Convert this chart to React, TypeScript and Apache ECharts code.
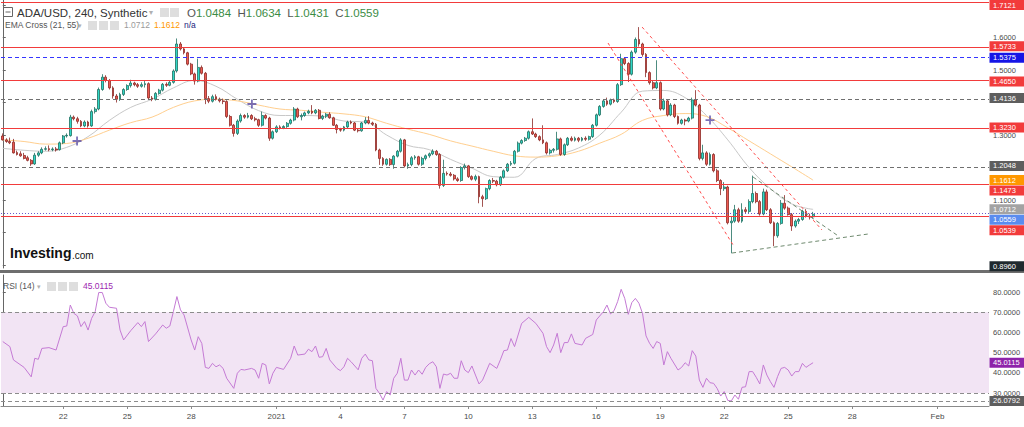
import { useEffect, useRef } from "react";
import * as echarts from "echarts";

const FONT = "'Liberation Sans', Arial, Helvetica, sans-serif";

// 4-hour bars
const FIRST_BAR_UTC = Date.UTC(2020, 11, 19, 4);
const BAR_MS = 4 * 3600 * 1000;
const SLOT_COUNT = 278;

const tickDates = [
  "2020-12-22", "2020-12-25", "2020-12-28", "2021-01-01", "2021-01-04", "2021-01-07", "2021-01-10",
  "2021-01-13", "2021-01-16", "2021-01-19", "2021-01-22", "2021-01-25", "2021-01-28", "2021-02-01",
];
const tickLabels = ["22", "25", "28", "2021", "4", "7", "10", "13", "16", "19", "22", "25", "28", "Feb"];

// [open, high, low, close]
const ohlc: number[][] = [
  [1.297, 1.305, 1.283, 1.285], [1.285, 1.29, 1.276, 1.28], [1.28, 1.292, 1.272, 1.276], [1.278, 1.288, 1.243, 1.245],
  [1.246, 1.252, 1.237, 1.24], [1.242, 1.25, 1.233, 1.236], [1.237, 1.245, 1.225, 1.228], [1.23, 1.236, 1.219, 1.222],
  [1.222, 1.226, 1.205, 1.211], [1.211, 1.245, 1.208, 1.238], [1.238, 1.25, 1.233, 1.245], [1.245, 1.262, 1.241, 1.256],
  [1.256, 1.265, 1.252, 1.258], [1.258, 1.268, 1.25, 1.255], [1.255, 1.262, 1.25, 1.257], [1.257, 1.263, 1.249, 1.254],
  [1.255, 1.28, 1.252, 1.276], [1.276, 1.3, 1.272, 1.297], [1.297, 1.305, 1.292, 1.299], [1.298, 1.362, 1.295, 1.355],
  [1.355, 1.36, 1.345, 1.35], [1.35, 1.356, 1.335, 1.342], [1.342, 1.346, 1.324, 1.328], [1.328, 1.345, 1.324, 1.34],
  [1.34, 1.344, 1.323, 1.328], [1.328, 1.378, 1.325, 1.372], [1.372, 1.386, 1.366, 1.38], [1.38, 1.446, 1.376, 1.44],
  [1.44, 1.487, 1.436, 1.478], [1.478, 1.484, 1.462, 1.468], [1.468, 1.472, 1.44, 1.445], [1.445, 1.45, 1.412, 1.42],
  [1.42, 1.426, 1.4, 1.41], [1.41, 1.43, 1.405, 1.425], [1.425, 1.444, 1.42, 1.44], [1.44, 1.456, 1.436, 1.452],
  [1.452, 1.47, 1.446, 1.46], [1.46, 1.464, 1.45, 1.455], [1.455, 1.46, 1.445, 1.45], [1.45, 1.462, 1.446, 1.455],
  [1.455, 1.466, 1.446, 1.458], [1.458, 1.462, 1.41, 1.414], [1.414, 1.42, 1.404, 1.41], [1.41, 1.432, 1.406, 1.428],
  [1.428, 1.442, 1.424, 1.438], [1.438, 1.46, 1.434, 1.456], [1.456, 1.462, 1.448, 1.453], [1.453, 1.466, 1.45, 1.462],
  [1.462, 1.502, 1.458, 1.497], [1.497, 1.597, 1.492, 1.58], [1.58, 1.586, 1.56, 1.565], [1.565, 1.57, 1.548, 1.553],
  [1.553, 1.556, 1.514, 1.518], [1.518, 1.522, 1.484, 1.488], [1.488, 1.492, 1.455, 1.466], [1.466, 1.535, 1.462, 1.508],
  [1.508, 1.514, 1.486, 1.49], [1.49, 1.494, 1.395, 1.412], [1.412, 1.42, 1.398, 1.404], [1.404, 1.424, 1.4, 1.418],
  [1.418, 1.425, 1.406, 1.41], [1.41, 1.415, 1.4, 1.405], [1.405, 1.412, 1.395, 1.403], [1.403, 1.407, 1.352, 1.357],
  [1.357, 1.362, 1.326, 1.33], [1.33, 1.334, 1.295, 1.305], [1.305, 1.348, 1.3, 1.343], [1.343, 1.366, 1.338, 1.36],
  [1.36, 1.364, 1.35, 1.355], [1.355, 1.368, 1.351, 1.36], [1.36, 1.364, 1.346, 1.35], [1.35, 1.356, 1.342, 1.347],
  [1.347, 1.35, 1.325, 1.33], [1.33, 1.372, 1.326, 1.36], [1.36, 1.364, 1.348, 1.352], [1.352, 1.356, 1.282, 1.29],
  [1.29, 1.314, 1.286, 1.31], [1.31, 1.33, 1.306, 1.325], [1.325, 1.33, 1.317, 1.322], [1.322, 1.33, 1.318, 1.326],
  [1.326, 1.34, 1.322, 1.336], [1.336, 1.35, 1.332, 1.346], [1.346, 1.386, 1.342, 1.38], [1.38, 1.384, 1.352, 1.356],
  [1.356, 1.366, 1.345, 1.36], [1.36, 1.372, 1.356, 1.368], [1.368, 1.378, 1.364, 1.373], [1.373, 1.392, 1.364, 1.368],
  [1.368, 1.38, 1.364, 1.376], [1.376, 1.38, 1.348, 1.351], [1.351, 1.362, 1.346, 1.358], [1.358, 1.368, 1.352, 1.364],
  [1.364, 1.37, 1.35, 1.353], [1.353, 1.356, 1.328, 1.33], [1.33, 1.334, 1.305, 1.317], [1.317, 1.322, 1.31, 1.315],
  [1.315, 1.328, 1.311, 1.325], [1.325, 1.344, 1.321, 1.34], [1.34, 1.345, 1.333, 1.337], [1.337, 1.34, 1.312, 1.315],
  [1.315, 1.32, 1.308, 1.313], [1.313, 1.34, 1.31, 1.337], [1.337, 1.355, 1.333, 1.345], [1.345, 1.358, 1.333, 1.337],
  [1.337, 1.341, 1.328, 1.333], [1.333, 1.337, 1.25, 1.254], [1.254, 1.258, 1.208, 1.228], [1.228, 1.232, 1.205, 1.21],
  [1.21, 1.228, 1.206, 1.225], [1.225, 1.229, 1.205, 1.209], [1.209, 1.238, 1.196, 1.235], [1.235, 1.254, 1.231, 1.25],
  [1.25, 1.29, 1.246, 1.285], [1.285, 1.288, 1.2, 1.205], [1.205, 1.215, 1.196, 1.209], [1.209, 1.235, 1.204, 1.23],
  [1.23, 1.238, 1.224, 1.233], [1.233, 1.236, 1.206, 1.21], [1.21, 1.233, 1.205, 1.228], [1.228, 1.24, 1.222, 1.236],
  [1.236, 1.246, 1.23, 1.242], [1.242, 1.256, 1.238, 1.25], [1.25, 1.254, 1.236, 1.24], [1.24, 1.244, 1.135, 1.145],
  [1.145, 1.224, 1.14, 1.182], [1.182, 1.188, 1.175, 1.18], [1.18, 1.186, 1.172, 1.176], [1.176, 1.18, 1.16, 1.165],
  [1.165, 1.17, 1.156, 1.16], [1.16, 1.204, 1.156, 1.2], [1.2, 1.212, 1.194, 1.205], [1.205, 1.208, 1.168, 1.172],
  [1.172, 1.176, 1.16, 1.164], [1.164, 1.178, 1.158, 1.172], [1.172, 1.175, 1.09, 1.11], [1.11, 1.116, 1.079, 1.104],
  [1.104, 1.138, 1.1, 1.135], [1.135, 1.164, 1.13, 1.16], [1.16, 1.168, 1.152, 1.158], [1.158, 1.162, 1.142, 1.147],
  [1.147, 1.174, 1.143, 1.17], [1.17, 1.194, 1.166, 1.19], [1.19, 1.214, 1.186, 1.21], [1.21, 1.22, 1.205, 1.213],
  [1.213, 1.254, 1.209, 1.25], [1.25, 1.28, 1.246, 1.275], [1.275, 1.287, 1.271, 1.283], [1.283, 1.294, 1.279, 1.29],
  [1.29, 1.314, 1.286, 1.31], [1.31, 1.351, 1.3, 1.303], [1.303, 1.307, 1.291, 1.295], [1.295, 1.299, 1.281, 1.285],
  [1.285, 1.33, 1.272, 1.276], [1.276, 1.28, 1.24, 1.245], [1.245, 1.258, 1.24, 1.253], [1.253, 1.26, 1.246, 1.256],
  [1.256, 1.31, 1.252, 1.288], [1.288, 1.292, 1.236, 1.24], [1.24, 1.274, 1.236, 1.27], [1.27, 1.294, 1.266, 1.29],
  [1.29, 1.296, 1.28, 1.284], [1.284, 1.295, 1.28, 1.29], [1.29, 1.294, 1.278, 1.284], [1.284, 1.294, 1.28, 1.29],
  [1.29, 1.296, 1.282, 1.287], [1.287, 1.298, 1.283, 1.295], [1.295, 1.334, 1.291, 1.33], [1.33, 1.366, 1.326, 1.362],
  [1.362, 1.392, 1.358, 1.388], [1.388, 1.409, 1.384, 1.405], [1.405, 1.415, 1.39, 1.395], [1.395, 1.412, 1.391, 1.408],
  [1.408, 1.412, 1.398, 1.403], [1.403, 1.46, 1.399, 1.455], [1.455, 1.55, 1.451, 1.535], [1.535, 1.54, 1.515, 1.52],
  [1.52, 1.524, 1.463, 1.487], [1.487, 1.56, 1.483, 1.555], [1.555, 1.6, 1.55, 1.594], [1.594, 1.632, 1.572, 1.58],
  [1.58, 1.584, 1.541, 1.548], [1.548, 1.552, 1.478, 1.492], [1.492, 1.496, 1.455, 1.461], [1.461, 1.466, 1.44, 1.445],
  [1.445, 1.53, 1.441, 1.461], [1.461, 1.465, 1.375, 1.38], [1.38, 1.412, 1.376, 1.405], [1.405, 1.41, 1.357, 1.362],
  [1.362, 1.398, 1.358, 1.392], [1.392, 1.396, 1.352, 1.357], [1.357, 1.36, 1.332, 1.336], [1.336, 1.35, 1.332, 1.346],
  [1.346, 1.35, 1.33, 1.343], [1.343, 1.356, 1.339, 1.352], [1.352, 1.415, 1.348, 1.408], [1.408, 1.438, 1.388, 1.392],
  [1.392, 1.396, 1.222, 1.228], [1.228, 1.27, 1.222, 1.245], [1.245, 1.25, 1.205, 1.21], [1.21, 1.246, 1.206, 1.24],
  [1.24, 1.244, 1.185, 1.19], [1.19, 1.196, 1.155, 1.16], [1.16, 1.164, 1.115, 1.135], [1.135, 1.155, 1.128, 1.14],
  [1.14, 1.144, 1.025, 1.03], [1.03, 1.05, 0.936, 1.035], [1.035, 1.085, 1.03, 1.07], [1.07, 1.076, 1.03, 1.035],
  [1.035, 1.09, 1.03, 1.07], [1.07, 1.078, 1.06, 1.065], [1.065, 1.102, 1.06, 1.095], [1.095, 1.175, 1.09, 1.12],
  [1.12, 1.126, 1.09, 1.095], [1.095, 1.1, 1.052, 1.057], [1.057, 1.135, 1.053, 1.125], [1.125, 1.132, 1.066, 1.07],
  [1.07, 1.075, 1.026, 1.03], [1.03, 1.034, 0.958, 0.99], [0.99, 1.032, 0.984, 1.028], [1.028, 1.1, 1.024, 1.09],
  [1.09, 1.115, 1.07, 1.075], [1.075, 1.08, 1.052, 1.055], [1.055, 1.06, 1.005, 1.02], [1.02, 1.04, 1.015, 1.035],
  [1.035, 1.045, 1.026, 1.04], [1.04, 1.07, 1.036, 1.065], [1.065, 1.072, 1.046, 1.05], [1.05, 1.058, 1.04, 1.0484],
  [1.0484, 1.0634, 1.0431, 1.0559],
];

// EMA readings [bar index, value]
const ema21Points: number[][] = [
  [0, 1.259], [6, 1.253], [12, 1.25], [18, 1.262], [24, 1.295], [30, 1.345], [36, 1.385], [42, 1.41], [48, 1.445],
  [54, 1.468], [60, 1.45], [66, 1.41], [72, 1.375], [78, 1.36], [84, 1.36], [90, 1.358], [96, 1.343], [102, 1.34],
  [108, 1.3], [114, 1.268], [120, 1.255], [126, 1.225], [132, 1.198], [138, 1.172], [144, 1.17], [150, 1.228],
  [156, 1.24], [162, 1.26], [168, 1.3], [174, 1.37], [180, 1.435], [186, 1.437], [192, 1.415], [198, 1.36],
  [204, 1.285], [210, 1.2], [216, 1.135], [222, 1.088], [228, 1.0712],
];
const ema55Points: number[][] = [
  [0, 1.285], [6, 1.28], [12, 1.272], [18, 1.274], [24, 1.29], [30, 1.315], [36, 1.338], [42, 1.355], [48, 1.385],
  [54, 1.405], [60, 1.41], [66, 1.405], [72, 1.392], [78, 1.38], [84, 1.376], [90, 1.37], [96, 1.365], [102, 1.356],
  [108, 1.336], [114, 1.318], [120, 1.302], [126, 1.282], [132, 1.266], [138, 1.25], [144, 1.236], [150, 1.232],
  [156, 1.236], [162, 1.25], [168, 1.275], [174, 1.302], [180, 1.345], [186, 1.36], [192, 1.366], [198, 1.357],
  [204, 1.322], [210, 1.282], [216, 1.242], [222, 1.202], [228, 1.1612],
];

// RSI(14) readings [bar index, value]
const rsiPoints: number[][] = [
  [0, 55.5], [2, 53], [3, 46.4], [6, 42.7], [8, 38], [9, 47.2], [10, 46.7], [11, 52.1], [13, 52.5], [15, 51.3],
  [17, 62.9], [18, 63.2], [19, 73.6], [20, 69.5], [21, 68.2], [22, 62.9], [23, 65.4], [24, 61.2], [25, 67], [26, 70.3],
  [27, 79.8], [28, 79.8], [29, 74.5], [30, 72.5], [32, 72], [33, 61.2], [34, 56.3], [36, 60.9], [38, 64.9], [39, 62.9],
  [40, 65.4], [41, 55.5], [43, 59.3], [45, 63.7], [46, 62.1], [47, 63.2], [48, 70.3], [49, 77.8], [50, 71.2], [51, 68.7],
  [53, 56.3], [54, 51.3], [55, 57.9], [56, 54.6], [57, 42.7], [58, 42.2], [59, 44.7], [60, 43], [61, 43.9], [62, 42.2],
  [63, 37.3], [65, 32.3], [66, 39.8], [67, 41.7], [68, 41.4], [70, 42.2], [71, 41.4], [72, 37.3], [73, 44.7], [74, 43.9],
  [75, 34.5], [76, 39.8], [77, 42.7], [79, 41.7], [81, 47.2], [82, 53.3], [83, 48.8], [85, 49.3], [86, 51.7], [87, 50.5],
  [88, 53.3], [89, 47.7], [90, 48], [91, 52.1], [92, 46.4], [94, 42.2], [95, 41.1], [96, 43], [97, 47.2], [98, 45.5],
  [100, 41.5], [101, 47.2], [102, 49.3], [103, 46.4], [104, 46], [105, 32.3], [106, 29.8], [107, 26.5], [108, 30.7],
  [109, 29], [110, 37.3], [111, 39.8], [112, 47.2], [113, 36.4], [114, 36.4], [115, 41.4], [116, 38.9], [117, 41.4],
  [118, 39.3], [119, 42.7], [120, 44.5], [121, 45.5], [122, 43], [123, 32.3], [124, 39.4], [125, 38.9], [126, 39.8],
  [127, 37.3], [128, 37.3], [129, 46], [130, 41.4], [131, 40.1], [132, 43.4], [133, 38.9], [134, 34.5], [135, 36.4],
  [137, 44.7], [139, 42.2], [140, 46.4], [141, 51], [142, 51.3], [143, 57], [144, 53], [146, 64.5], [148, 67.5],
  [150, 64.5], [152, 59.6], [153, 53], [154, 50], [155, 53.8], [156, 59.6], [157, 50], [158, 55], [159, 55], [160, 59.3],
  [161, 54.6], [163, 53.8], [164, 57.1], [166, 59], [167, 66.2], [169, 70.3], [170, 73.6], [171, 69.2], [172, 70.8],
  [173, 75.3], [174, 81.4], [175, 76.9], [176, 69], [177, 74.8], [178, 76.9], [179, 74.5], [180, 69.5], [181, 58.3],
  [182, 54.6], [183, 52.1], [184, 55.5], [185, 54.6], [186, 43.9], [187, 50.5], [188, 47.2], [190, 41.4], [191, 42.7],
  [192, 45], [193, 43.4], [194, 51], [195, 48.3], [196, 36.4], [197, 32.8], [198, 37.3], [199, 35.1], [200, 34.8],
  [201, 32.3], [202, 28.5], [203, 30.7], [204, 26.3], [205, 26.0792], [206, 29], [207, 26.9], [208, 32.8], [209, 33.1],
  [210, 40.6], [211, 40.6], [212, 37.8], [213, 34.5], [214, 43.9], [215, 38.9], [216, 35.6], [217, 32.8], [218, 38.1],
  [219, 42.2], [220, 42.7], [221, 41.4], [222, 38.4], [223, 40.6], [224, 40.6], [225, 44.7], [226, 42.7], [227, 43.9],
  [228, 45.0115],
];

// horizontal levels
const redLevels = [1.7121, 1.5733, 1.465, 1.323, 1.1473, 1.0539];
const blueLevels = [1.5375];
const grayLevels = [1.4136, 1.2048];
const bottomLevel = 0.896;
const rsiBand = [30, 70];
const rsiLowLevel = 26.0792;

// trend drawings [bar index, price]
const channelLines: number[][][] = [
  [[170.3, 1.583], [205.5, 0.9615]],
  [[179.9, 1.632], [230.5, 1.0077]],
];
const triangleLines: number[][][] = [
  [[211.1, 1.1708], [234.7, 0.9923]],
  [[205.2, 0.9369], [243.5, 0.9954]],
];
const crossMarks: number[][] = [[20.9, 1.2815], [70.1, 1.3954], [199, 1.346]];

const RED = "#f23b3b";
const UP = "#2fd8c8";
const DOWN = "#ee5a50";

export default function App() {
  const ref = useRef<HTMLDivElement>(null);

  useEffect(() => {
    if (!ref.current) return;
    const chart = echarts.init(ref.current, undefined, { renderer: "svg" });

    const cats: string[] = [];
    for (let i = 0; i < SLOT_COUNT; i++) cats.push(String(FIRST_BAR_UTC + i * BAR_MS));
    const labelAt: Record<number, string> = {};
    tickDates.forEach((d, k) => {
      const [y, m, dd] = d.split("-").map(Number);
      const idx = Math.round((Date.UTC(y, m - 1, dd) - FIRST_BAR_UTC) / BAR_MS);
      labelAt[idx] = tickLabels[k];
    });
    const showTick = (idx: number) => labelAt[idx] !== undefined;

    const last = ohlc[ohlc.length - 1];
    const ema21Last = ema21Points[ema21Points.length - 1][1];
    const ema55Last = ema55Points[ema55Points.length - 1][1];
    const rsiLast = rsiPoints[rsiPoints.length - 1][1];

    const P_MIN = 0.8908, P_MAX = 1.7154;
    const R_MIN = 23.56, R_MAX = 88.49;

    const axisLabelCommon = {
      fontSize: 7.5,
      color: "#4a4a4a",
      margin: 4,
      showMinLabel: false,
      showMaxLabel: false,
      fontFamily: FONT,
    };

    const drawLine = (pts: number[][], color: string, dash: number[]) => ({
      type: "line",
      xAxisIndex: 2,
      yAxisIndex: 0,
      data: pts,
      symbol: "none",
      silent: true,
      lineStyle: { color, width: 1, type: dash },
      z: 4,
    });

    const option: any = {
      animation: false,
      backgroundColor: "#ffffff",
      textStyle: { fontFamily: FONT },
      grid: [
        { left: 1, right: 35, top: 0, height: 268 },
        { left: 1, right: 35, top: 275, height: 131 },
      ],
      xAxis: [
        { type: "category", gridIndex: 0, data: cats, boundaryGap: true, show: false },
        {
          type: "category",
          gridIndex: 1,
          data: cats,
          boundaryGap: true,
          axisLine: { lineStyle: { color: "#8a8a8a" } },
          axisTick: { show: true, interval: showTick, alignWithLabel: true, length: 3, lineStyle: { color: "#8a8a8a" } },
          axisLabel: {
            interval: showTick,
            formatter: (_v: string, idx: number) => labelAt[idx] ?? "",
            fontSize: 8,
            color: "#4a4a4a",
            margin: 6,
            fontFamily: FONT,
          },
          splitLine: { show: false },
        },
        { type: "value", gridIndex: 0, min: -0.5, max: SLOT_COUNT - 0.5, show: false },
        { type: "value", gridIndex: 1, min: -0.5, max: SLOT_COUNT - 0.5, show: false },
      ],
      yAxis: [
        {
          type: "value",
          gridIndex: 0,
          position: "right",
          min: P_MIN,
          max: P_MAX,
          splitNumber: 8,
          splitLine: { show: false },
          axisLine: { show: true, lineStyle: { color: "#666" } },
          axisTick: { show: true, length: 3, lineStyle: { color: "#666" } },
          axisLabel: { ...axisLabelCommon, formatter: (v: number) => v.toFixed(4) },
        },
        {
          type: "value",
          gridIndex: 1,
          position: "right",
          min: R_MIN,
          max: R_MAX,
          splitNumber: 6,
          splitLine: { show: false },
          axisLine: { show: true, lineStyle: { color: "#666" } },
          axisTick: { show: true, length: 3, lineStyle: { color: "#666" } },
          axisLabel: { ...axisLabelCommon, formatter: (v: number) => v.toFixed(4) },
        },
      ],
      series: [
        {
          type: "candlestick",
          xAxisIndex: 0,
          yAxisIndex: 0,
          barWidth: "66%",
          data: ohlc.map(([o, h, l, c]) => [o, c, l, h]),
          itemStyle: {
            color: UP,
            color0: DOWN,
            borderColor: "#1f6e60",
            borderColor0: "#8c2a26",
            borderWidth: 0.8,
          },
          z: 3,
          markLine: {
            silent: true,
            symbol: ["none", "none"],
            label: { show: false },
            animation: false,
            data: [
              ...redLevels.map((v) => ({ yAxis: v, lineStyle: { color: RED, width: 1, type: "solid" } })),
              ...blueLevels.map((v) => ({ yAxis: v, lineStyle: { color: "#3535ff", width: 1, type: [4, 3] } })),
              ...grayLevels.map((v) => ({ yAxis: v, lineStyle: { color: "#707070", width: 1, type: [4, 3] } })),
              { yAxis: last[3], lineStyle: { color: "#6a5acd", width: 1, type: [1, 2] } },
            ],
          },
        },
        {
          type: "line",
          xAxisIndex: 2,
          yAxisIndex: 0,
          data: ema21Points,
          smooth: 0.4,
          symbol: "none",
          silent: true,
          lineStyle: { color: "#c8c8c8", width: 1 },
          z: 2,
        },
        {
          type: "line",
          xAxisIndex: 2,
          yAxisIndex: 0,
          data: ema55Points,
          smooth: 0.4,
          symbol: "none",
          silent: true,
          lineStyle: { color: "#ffcf8f", width: 1 },
          z: 2,
        },
        ...channelLines.map((l) => drawLine(l, "#ff4d4d", [3, 3])),
        ...triangleLines.map((l) => drawLine(l, "#6f8a6f", [4, 3])),
        {
          type: "scatter",
          xAxisIndex: 2,
          yAxisIndex: 0,
          data: crossMarks,
          symbol: "path://M4,0H6V4H10V6H6V10H4V6H0V4H4Z",
          symbolSize: 9,
          itemStyle: { color: "#5b4ea6" },
          silent: true,
          z: 6,
        },
        {
          type: "line",
          xAxisIndex: 3,
          yAxisIndex: 1,
          data: rsiPoints,
          symbol: "none",
          silent: true,
          lineStyle: { color: "#c47ad4", width: 1 },
          z: 3,
          markArea: {
            silent: true,
            itemStyle: { color: "#f2e4f4" },
            data: [[{ yAxis: rsiBand[0] }, { yAxis: rsiBand[1] }]],
          },
          markLine: {
            silent: true,
            symbol: ["none", "none"],
            label: { show: false },
            lineStyle: { color: "#8c8c8c", width: 1, type: [4, 3] },
            data: [{ yAxis: rsiBand[1] }, { yAxis: rsiBand[0] }, { yAxis: rsiLowLevel }],
          },
        },
      ],
    };

    chart.setOption(option);

    // right-hand value tags
    const priceTags = [
      ...redLevels.map((v) => ({ v, c: RED })),
      ...blueLevels.map((v) => ({ v, c: "#1515e6" })),
      ...grayLevels.map((v) => ({ v, c: "#5e5e5e" })),
      { v: ema55Last, c: "#ff9800" },
      { v: ema21Last, c: "#a3a3a3" },
      { v: last[3], c: "#5a8cef" },
      { v: bottomLevel, c: "#1f292e" },
    ];
    const tagsPx = priceTags
      .map((t) => ({ ...t, y: chart.convertToPixel({ yAxisIndex: 0 } as any, t.v) as number }))
      .sort((a, b) => a.y - b.y || b.v - a.v);
    if (tagsPx.length) tagsPx[0].y = Math.max(tagsPx[0].y, 5);
    for (let k = 1; k < tagsPx.length; k++) {
      if (tagsPx[k].y < tagsPx[k - 1].y + 10.4) tagsPx[k].y = tagsPx[k - 1].y + 10.4;
    }
    const rsiTags = [
      { v: rsiLast, c: "#8e24aa" },
      { v: rsiLowLevel, c: "#5e5e5e" },
    ].map((t) => ({ ...t, y: chart.convertToPixel({ yAxisIndex: 1 } as any, t.v) as number }));

    // axis labels hidden behind a tag
    const hiddenPrice = new Set<string>();
    for (let k = 0; k <= 20; k++) {
      const v = Math.round((0.5 + k * 0.1) * 10) / 10;
      const y = chart.convertToPixel({ yAxisIndex: 0 } as any, v) as number;
      if (tagsPx.some((t) => Math.abs(t.y - y) < 7)) hiddenPrice.add(v.toFixed(4));
    }

    const tagEl = (t: { v: number; c: string; y: number }) => ({
      type: "group",
      z: 100,
      children: [
        { type: "rect", shape: { x: 989.5, y: t.y - 5, width: 35, height: 10 }, style: { fill: t.c }, z: 100 },
        {
          type: "text",
          x: 993,
          y: t.y,
          z: 101,
          style: { text: t.v.toFixed(4), fill: "#ffffff", fontSize: 7.5, fontFamily: FONT, verticalAlign: "middle" },
        },
      ],
    });

    const icon = (x: number, y: number) => ({
      type: "rect",
      shape: { x, y, width: 9, height: 9 },
      style: { fill: "#dedede" },
      z: 50,
    });
    const txt = (x: number, y: number, text: string, fill: string, fontSize: number, extra: any = {}) => ({
      type: "text",
      x,
      y,
      z: 50,
      style: { text, fill, fontSize, fontFamily: FONT, verticalAlign: "middle", ...extra },
    });

    const graphic: any[] = [
      // pane separator
      { type: "rect", shape: { x: 0, y: 270, width: 1024, height: 3 }, style: { fill: "#6e6e6e" }, z: 40 },
      // header line 1
      { type: "rect", shape: { x: 3.5, y: 7.5, width: 9, height: 9 }, style: { fill: "none", stroke: "#666", lineWidth: 1 }, z: 50 },
      { type: "line", shape: { x1: 5.5, y1: 12, x2: 10.5, y2: 12 }, style: { stroke: "#666", lineWidth: 1 }, z: 50 },
      txt(17, 12.5, "ADA/USD, 240, Synthetic", "#333333", 11.5),
      txt(149, 12.5, "▾", "#b0b0b0", 8),
      icon(160, 8),
      icon(170, 8),
      txt(187, 12.5,
        `O{v|${last[0].toFixed(4)}}  H{v|${last[1].toFixed(4)}}  L{v|${last[2].toFixed(4)}}  C{v|${last[3].toFixed(4)}}`,
        "#555555", 11.5,
        { rich: { v: { fill: "#3b8c45", color: "#3b8c45", fontSize: 11.5, fontFamily: FONT } } }),
      // header line 2
      txt(5, 25, "EMA Cross (21, 55)", "#555555", 8.5),
      txt(78, 25, "▾", "#b0b0b0", 7),
      icon(88, 21),
      icon(99, 21),
      icon(110, 21),
      txt(124, 25, ema21Last.toFixed(4), "#9a9a9a", 8.5),
      txt(154, 25, ema55Last.toFixed(4), "#ff9800", 8.5),
      txt(184, 25, "n/a", "#1a237e", 8.5),
      // Investing.com
      txt(10, 253, "Investing", "#111111", 14, { fontWeight: "bold" }),
      txt(72, 255, ".com", "#111111", 10),
      // RSI header
      txt(3, 286, "RSI (14)", "#555555", 8.5),
      txt(37, 286, "▾", "#b0b0b0", 7),
      icon(47, 282),
      icon(58, 282),
      icon(69, 282),
      txt(83, 286, rsiLast.toFixed(4), "#9c27b0", 8.5),
      ...tagsPx.map(tagEl),
      ...rsiTags.map(tagEl),
    ];

    chart.setOption({
      yAxis: [
        { axisLabel: { formatter: (v: number) => (hiddenPrice.has(v.toFixed(4)) ? "" : v.toFixed(4)) } },
        {},
      ],
      graphic,
    });

    return () => chart.dispose();
  }, []);

  return (
    <div
      ref={ref}
      style={{ position: "absolute", left: 0, top: 0, width: 1024, height: 427, background: "#fff" }}
    />
  );
}
